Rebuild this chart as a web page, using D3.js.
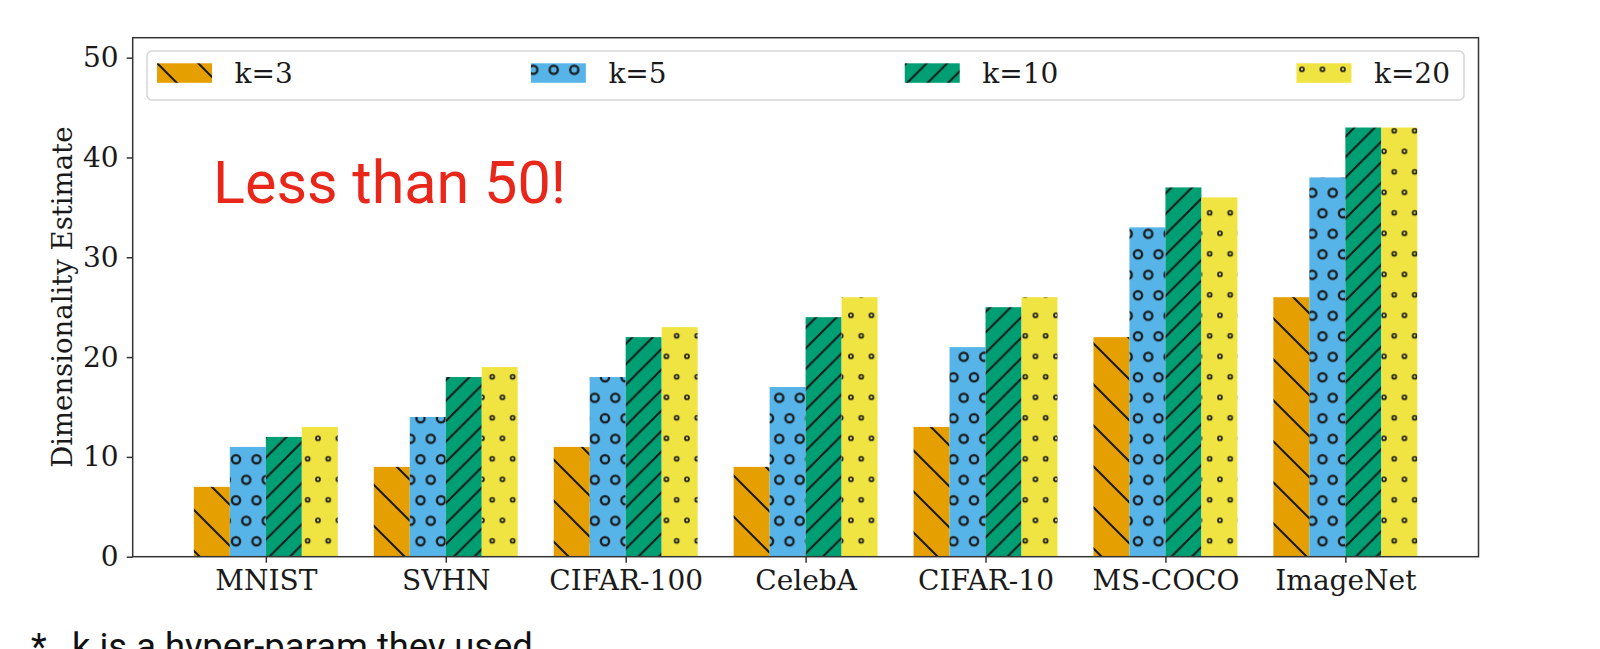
<!DOCTYPE html>
<html>
<head>
<meta charset="utf-8">
<script src="https://cdn.jsdelivr.net/npm/d3@7"></script>
<style>
  body { margin: 0; background: #fff; }
  svg { display: block; }
  .tick text { font-family: "DejaVu Serif", serif; font-size: 28px; fill: #1a1a1a; }
  .axis path, .axis line { stroke: #333; }
</style>
</head>
<body>
<svg width="1600" height="649"></svg>
<script>
// data
var datasets = ['MNIST', 'SVHN', 'CIFAR-100', 'CelebA', 'CIFAR-10', 'MS-COCO', 'ImageNet'];
var kLabels = ['k=3', 'k=5', 'k=10', 'k=20'];
var k3 = [7, 9, 11, 9, 13, 22, 26];
var k5 = [11, 14, 18, 17, 21, 33, 38];
var k10 = [12, 18, 22, 24, 25, 37, 43];
var k20 = [13, 19, 23, 26, 26, 36, 43];
var yTicks = [0, 10, 20, 30, 40, 50];

var series = [k3, k5, k10, k20];
var colors = ['#E69F00', '#56B4E9', '#009E73', '#F0E442'];
var hatchIds = ['hatch-back', 'hatch-circ', 'hatch-fwd', 'hatch-dots'];

var svg = d3.select('svg');

// axes box
var plot = {l: 132.7, r: 1478.5, t: 37.7, b: 556.7};

var x = d3.scaleLinear().domain([-0.74, 6.74]).range([plot.l, plot.r]);
var y = d3.scaleLinear().domain([0, 52]).range([plot.b, plot.t]);
var barW = 0.2;

// ---- hatch patterns (matplotlib-like) ----
var defs = svg.append('defs');
var ink = '#1a1a1a';

// '\' single diagonal, tile 41
var s = 41;
var p1 = defs.append('pattern').attr('id', hatchIds[0])
    .attr('patternUnits', 'userSpaceOnUse')
    .attr('width', s).attr('height', s)
    .attr('x', 0).attr('y', 29);
p1.append('rect').attr('width', s).attr('height', s).attr('fill', colors[0]);
p1.append('path')
    .attr('d', 'M0,0L' + s + ',' + s + 'M-2,' + (s - 2) + 'L2,' + (s + 2) + 'M' + (s - 2) + ',-2L' + (s + 2) + ',2')
    .attr('stroke', ink).attr('stroke-width', 2);

// 'oo' staggered circles
var p2 = defs.append('pattern').attr('id', hatchIds[1])
    .attr('patternUnits', 'userSpaceOnUse')
    .attr('width', 20.5).attr('height', 41)
    .attr('x', 10.5).attr('y', 8.3);
p2.append('rect').attr('width', 20.5).attr('height', 41).attr('fill', colors[1]);
[[0, 0], [20.5, 0], [0, 41], [20.5, 41], [10.25, 20.5]].forEach(function(c) {
  p2.append('circle').attr('cx', c[0]).attr('cy', c[1]).attr('r', 4.1)
    .attr('fill', 'none').attr('stroke', ink).attr('stroke-width', 2.3);
});

// '//' double diagonal, tile 20.5
var s2 = 20.5;
var p3 = defs.append('pattern').attr('id', hatchIds[2])
    .attr('patternUnits', 'userSpaceOnUse')
    .attr('width', s2).attr('height', s2)
    .attr('x', 0).attr('y', 6);
p3.append('rect').attr('width', s2).attr('height', s2).attr('fill', colors[2]);
p3.append('path')
    .attr('d', 'M0,' + s2 + 'L' + s2 + ',0M-2,2L2,-2M' + (s2 - 2) + ',' + (s2 + 2) + 'L' + (s2 + 2) + ',' + (s2 - 2))
    .attr('stroke', ink).attr('stroke-width', 2);

// '..' small dots
var p4 = defs.append('pattern').attr('id', hatchIds[3])
    .attr('patternUnits', 'userSpaceOnUse')
    .attr('width', 20.5).attr('height', 41)
    .attr('x', 10.45).attr('y', 28.3);
p4.append('rect').attr('width', 20.5).attr('height', 41).attr('fill', colors[3]);
[[0, 0], [20.5, 0], [0, 41], [20.5, 41], [10.25, 20.5]].forEach(function(c) {
  p4.append('circle').attr('cx', c[0]).attr('cy', c[1]).attr('r', 2)
    .attr('fill', 'none').attr('stroke', ink).attr('stroke-width', 1.7);
});

// ---- bars ----
var groups = svg.selectAll('.series')
    .data(series)
    .enter()
    .append('g')
    .attr('class', 'series');

groups.each(function(vals, si) {
  d3.select(this).selectAll('rect')
    .data(vals)
    .enter()
    .append('rect')
    .attr('x', function(d, i) { return x(i + (si - 1.5) * barW - barW / 2); })
    .attr('width', x(barW) - x(0))
    .attr('y', function(d) { return y(d); })
    .attr('height', function(d) { return y(0) - y(d); })
    .attr('fill', 'url(#' + hatchIds[si] + ')');
});

// ---- axes ----
var xAxis = d3.axisBottom(x)
    .tickValues(d3.range(datasets.length))
    .tickFormat(function(i) { return datasets[i]; })
    .tickSizeOuter(0).tickSize(6).tickPadding(7);
svg.append('g').attr('class', 'axis')
    .attr('transform', 'translate(0,' + plot.b + ')')
    .call(xAxis)
    .call(function(g) { g.select('.domain').remove(); })
    .selectAll('line').attr('stroke-width', 1.5);
svg.selectAll('.axis .tick text').attr('dy', '0.72em');

var yAxis = d3.axisLeft(y).tickValues(yTicks).tickSize(6).tickPadding(8).tickSizeOuter(0);
svg.append('g').attr('class', 'axis')
    .attr('transform', 'translate(' + plot.l + ',0)')
    .call(yAxis)
    .call(function(g) { g.select('.domain').remove(); })
    .selectAll('line').attr('stroke-width', 1.5);

// frame
svg.append('rect')
    .attr('x', plot.l).attr('y', plot.t)
    .attr('width', plot.r - plot.l).attr('height', plot.b - plot.t)
    .attr('fill', 'none').attr('stroke', '#333').attr('stroke-width', 1.5);

// y label
svg.append('text')
    .attr('transform', 'translate(72,' + ((plot.t + plot.b) / 2) + ') rotate(-90)')
    .attr('text-anchor', 'middle')
    .style('font-family', '"DejaVu Serif", serif')
    .style('font-size', '27.5px')
    .style('fill', '#1a1a1a')
    .text('Dimensionality Estimate');

// ---- legend (expand mode) ----
var leg = {x0: 147, x1: 1464, y0: 51, y1: 100, inL: 157, inR: 1450};
svg.append('rect')
    .attr('x', leg.x0).attr('y', leg.y0)
    .attr('width', leg.x1 - leg.x0).attr('height', leg.y1 - leg.y0)
    .attr('rx', 5)
    .attr('fill', 'rgba(255,255,255,0.8)')
    .attr('stroke', '#d6d6d6').attr('stroke-width', 1.5);

var handleW = 55, handleH = 19.5, gap = 22.5;
var legItems = svg.selectAll('.leg-item')
    .data(kLabels)
    .enter()
    .append('g')
    .attr('class', 'leg-item');

legItems.append('rect')
    .attr('width', handleW).attr('height', handleH)
    .attr('y', 63.3)
    .attr('fill', function(d, i) { return 'url(#' + hatchIds[i] + ')'; });

legItems.append('text')
    .attr('y', 83.3)
    .style('font-family', '"DejaVu Serif", serif')
    .style('font-size', '28px')
    .style('fill', '#1a1a1a')
    .text(function(d) { return d; });

var colW = [];
legItems.select('text').each(function() {
  colW.push(handleW + gap + this.getComputedTextLength());
});
var sep = (leg.inR - leg.inL - d3.sum(colW)) / (kLabels.length - 1);
var cx = leg.inL;
legItems.each(function(d, i) {
  var g = d3.select(this);
  g.select('rect').attr('x', cx);
  g.select('text').attr('x', cx + handleW + gap);
  cx += colW[i] + sep;
});

// ---- annotations ----
svg.append('text')
    .attr('x', 213).attr('y', 202.5)
    .style('font-family', 'Roboto, sans-serif')
    .style('font-size', '59.3px')
    .style('fill', '#e8261a')
    .text('Less than 50!');

svg.append('text')
    .attr('x', 31).attr('y', 659)
    .style('font-family', 'Roboto, sans-serif')
    .style('font-size', '36.4px')
    .style('fill', '#111')
    .text('*');
svg.append('text')
    .attr('x', 72).attr('y', 659)
    .style('font-family', 'Roboto, sans-serif')
    .style('font-size', '36.4px')
    .style('fill', '#111')
    .text('k is a hyper-param they used');
</script>
</body>
</html>
